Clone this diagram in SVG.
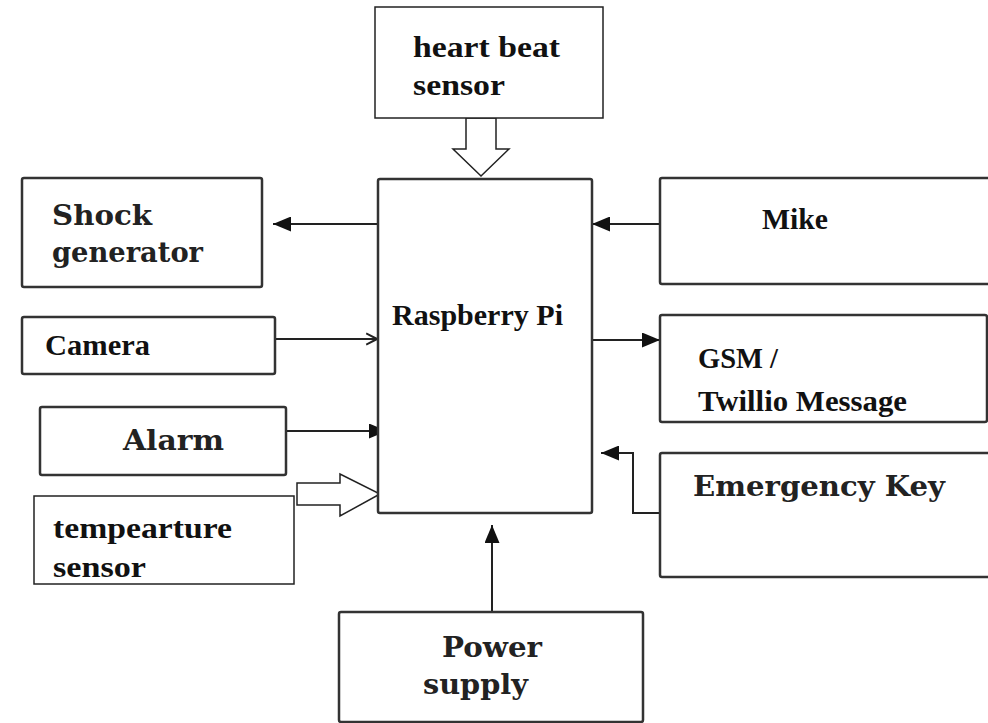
<svg xmlns="http://www.w3.org/2000/svg" width="988" height="723" viewBox="0 0 988 723">
<style>
.box{fill:#fff;stroke:#333;stroke-width:2.5}
.thin{fill:#fff;stroke:#222;stroke-width:1.5}
.t{font-family:"Liberation Serif","Times New Roman",serif;font-weight:bold;fill:#111}
.w{font-family:"DejaVu Serif","Liberation Serif",serif;font-weight:bold;fill:#222}
.ln{fill:none;stroke:#222;stroke-width:2}
.hol{fill:#fff;stroke:#222;stroke-width:1.5}
</style>
<defs>
<marker id="fb" viewBox="0 0 10 10" refX="10" refY="5" markerWidth="18" markerHeight="15" preserveAspectRatio="none" markerUnits="userSpaceOnUse" orient="auto"><path d="M0,0 L10,5 L0,10 Z" fill="#111"/></marker>
<marker id="oa" viewBox="0 0 10 10" refX="10" refY="5" markerWidth="12" markerHeight="14" preserveAspectRatio="none" markerUnits="userSpaceOnUse" orient="auto"><path d="M1,1 L10,5 L1,9" fill="none" stroke="#222" stroke-width="1.5"/></marker>
</defs>
<rect width="988" height="723" fill="#fff"/>
<g id="connectors">
<line class="ln" x1="378" y1="224" x2="273" y2="224" marker-end="url(#fb)"/>
<line class="ln" x1="275" y1="339" x2="377" y2="339" marker-end="url(#oa)"/>
<line class="ln" x1="286" y1="431" x2="387" y2="431" marker-end="url(#fb)"/>
<line class="ln" x1="660" y1="224" x2="592" y2="224" marker-end="url(#fb)"/>
<line class="ln" x1="592" y1="340" x2="660" y2="340" marker-end="url(#fb)"/>
<polyline class="ln" points="660,513 633,513 633,453 601,453" marker-end="url(#fb)"/>
<line class="ln" x1="492" y1="612" x2="492" y2="525" marker-end="url(#fb)"/>
<polygon class="hol" points="466,118 496,118 496,149 509,149 481,176 453,149 466,149"/>
<polygon class="hol" points="297,483 340,483 340,474 380,494 340,516 340,505 297,505"/>
</g>
<g id="heart-beat-sensor">
<rect class="thin" x="375" y="7" width="228" height="111"/>
<text class="t" x="413" y="57" font-size="30" textLength="147" lengthAdjust="spacingAndGlyphs">heart beat</text>
<text class="t" x="413" y="95" font-size="30" textLength="92" lengthAdjust="spacingAndGlyphs">sensor</text>
</g>
<g id="raspberry-pi">
<rect class="box" x="378" y="179" width="214" height="334" rx="2"/>
<text class="t" x="392" y="325" font-size="30" textLength="171" lengthAdjust="spacingAndGlyphs">Raspberry Pi</text>
</g>
<g id="shock-generator">
<rect class="box" x="22" y="178" width="240" height="109" rx="2"/>
<text class="w" x="52" y="225" font-size="28" textLength="100" lengthAdjust="spacingAndGlyphs">Shock</text>
<text class="w" x="52" y="262" font-size="28" textLength="151" lengthAdjust="spacingAndGlyphs">generator</text>
</g>
<g id="camera">
<rect class="box" x="22" y="317" width="253" height="57" rx="2"/>
<text class="t" x="45" y="355" font-size="30" textLength="105" lengthAdjust="spacingAndGlyphs">Camera</text>
</g>
<g id="alarm">
<rect class="box" x="40" y="407" width="246" height="68" rx="2"/>
<text class="w" x="123" y="450" font-size="28" textLength="101" lengthAdjust="spacingAndGlyphs">Alarm</text>
</g>
<g id="temperature-sensor">
<rect class="thin" x="34" y="496" width="260" height="88"/>
<text class="t" x="53" y="538" font-size="30" textLength="179" lengthAdjust="spacingAndGlyphs">tempearture</text>
<text class="t" x="53" y="577" font-size="30" textLength="93" lengthAdjust="spacingAndGlyphs">sensor</text>
</g>
<g id="mike">
<rect class="box" x="660" y="178" width="340" height="106" rx="2"/>
<text class="t" x="762" y="229" font-size="30" textLength="66" lengthAdjust="spacingAndGlyphs">Mike</text>
</g>
<g id="gsm">
<rect class="box" x="660" y="315" width="327" height="107" rx="2"/>
<text class="t" x="698" y="368" font-size="30" textLength="80" lengthAdjust="spacingAndGlyphs">GSM /</text>
<text class="t" x="698" y="411" font-size="30" textLength="209" lengthAdjust="spacingAndGlyphs">Twillio Message</text>
</g>
<g id="emergency-key">
<rect class="box" x="660" y="453" width="340" height="124" rx="2"/>
<text class="w" x="693" y="496" font-size="28" textLength="252" lengthAdjust="spacingAndGlyphs">Emergency Key</text>
</g>
<g id="power-supply">
<rect class="box" x="339" y="612" width="304" height="110" rx="2"/>
<text class="w" x="442" y="657" font-size="28" textLength="100" lengthAdjust="spacingAndGlyphs">Power</text>
<text class="w" x="423" y="694" font-size="28" textLength="105" lengthAdjust="spacingAndGlyphs">supply</text>
</g>
</svg>
